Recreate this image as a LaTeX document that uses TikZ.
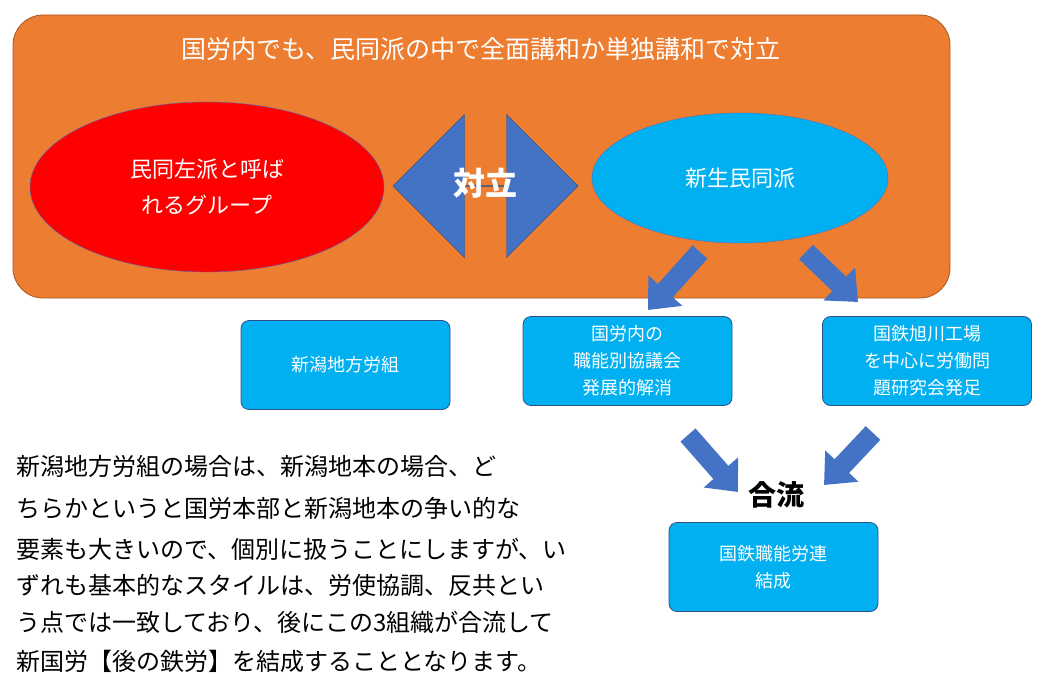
\documentclass[tikz,border=0pt]{standalone}
\usepackage{fontspec}
\setmainfont{Noto Sans CJK JP}
\usetikzlibrary{arrows.meta,shapes.arrows,shapes.geometric}
\definecolor{org}{HTML}{ED7D31}
\definecolor{cy}{HTML}{00B0F0}
\definecolor{bl}{HTML}{4472C4}
\tikzset{
 box/.style={draw=bl!70!black,fill=cy,rounded corners=8pt,minimum width=209pt,minimum height=89pt,text=white,font=\fontsize{18pt}{27pt}\selectfont,align=center,line width=0.8pt},
 barrow/.style={bl,line width=20pt,-{Triangle[width=44pt,length=26pt]}},
 para/.style={anchor=west,font=\fontsize{24pt}{28pt}\selectfont,inner sep=0}
}
\begin{document}
\begin{tikzpicture}[x=1pt,y=-1pt]
\useasboundingbox (0,0) rectangle (1043,685);
\fill[white] (0,0) rectangle (1043,685);
\node[draw=org!70!black,fill=org,rounded corners=30pt,minimum width=937pt,minimum height=283pt,line width=0.8pt] (frame) at (481.5,156.5) {};
\node[text=white,font=\fontsize{25pt}{30pt}\selectfont] (title) at (481,49) {国労内でも、民同派の中で全面講和か単独講和で対立};
\node[draw=bl,fill=red,ellipse,minimum width=354pt,minimum height=170pt,text=white,font=\fontsize{22pt}{36pt}\selectfont,align=center] (left) at (207,187) {民同左派と呼ば\\れるグループ};
\node[draw=bl,fill=cy,ellipse,minimum width=296pt,minimum height=130pt,text=white,font=\fontsize{22pt}{30pt}\selectfont] (right) at (740,178) {新生民同派};
\node[double arrow,fill=bl,draw=bl!70!black,minimum width=143pt,minimum height=185pt,double arrow head extend=36pt,double arrow head indent=0pt,inner sep=0] (da) at (485.5,186) {};
\node[text=white,font=\bfseries\fontsize{32pt}{36pt}\selectfont] (dat) at (485,183) {対立};
\node[box] (b1) at (345.5,365) {新潟地方労組};
\node[box] (b2) at (627.5,361) {国労内の\\職能別協議会\\発展的解消};
\node[box] (b3) at (927,361) {国鉄旭川工場\\を中心に労働問\\題研究会発足};
\node[box] (b4) at (773.5,567) {国鉄職能労連\\結成};
\coordinate (a1s) at (700,252); \coordinate (a1e) at (648,310);
\coordinate (a2s) at (806,252); \coordinate (a2e) at (858,302);
\coordinate (a3s) at (688,435); \coordinate (a3e) at (738,492);
\coordinate (a4s) at (873,433); \coordinate (a4e) at (824,485);
\draw[barrow] (a1s) -- (a1e);
\draw[barrow] (a2s) -- (a2e);
\draw[barrow] (a3s) -- (a3e);
\draw[barrow] (a4s) -- (a4e);
\node[font=\bfseries\fontsize{28pt}{32pt}\selectfont] (gr) at (776,495) {合流};
\node[para] (p1) at (16,466) {新潟地方労組の場合は、新潟地本の場合、ど};
\node[para] (p2) at (16,508) {ちらかというと国労本部と新潟地本の争い的な};
\node[para] (p3) at (16,549) {要素も大きいので、個別に扱うことにしますが、い};
\node[para] (p4) at (16,585) {ずれも基本的なスタイルは、労使協調、反共とい};
\node[para] (p5) at (16,622) {う点では一致しており、後にこの3組織が合流して};
\node[para] (p6) at (16,661) {新国労【後の鉄労】を結成することとなります。};
\end{tikzpicture}
\end{document}
